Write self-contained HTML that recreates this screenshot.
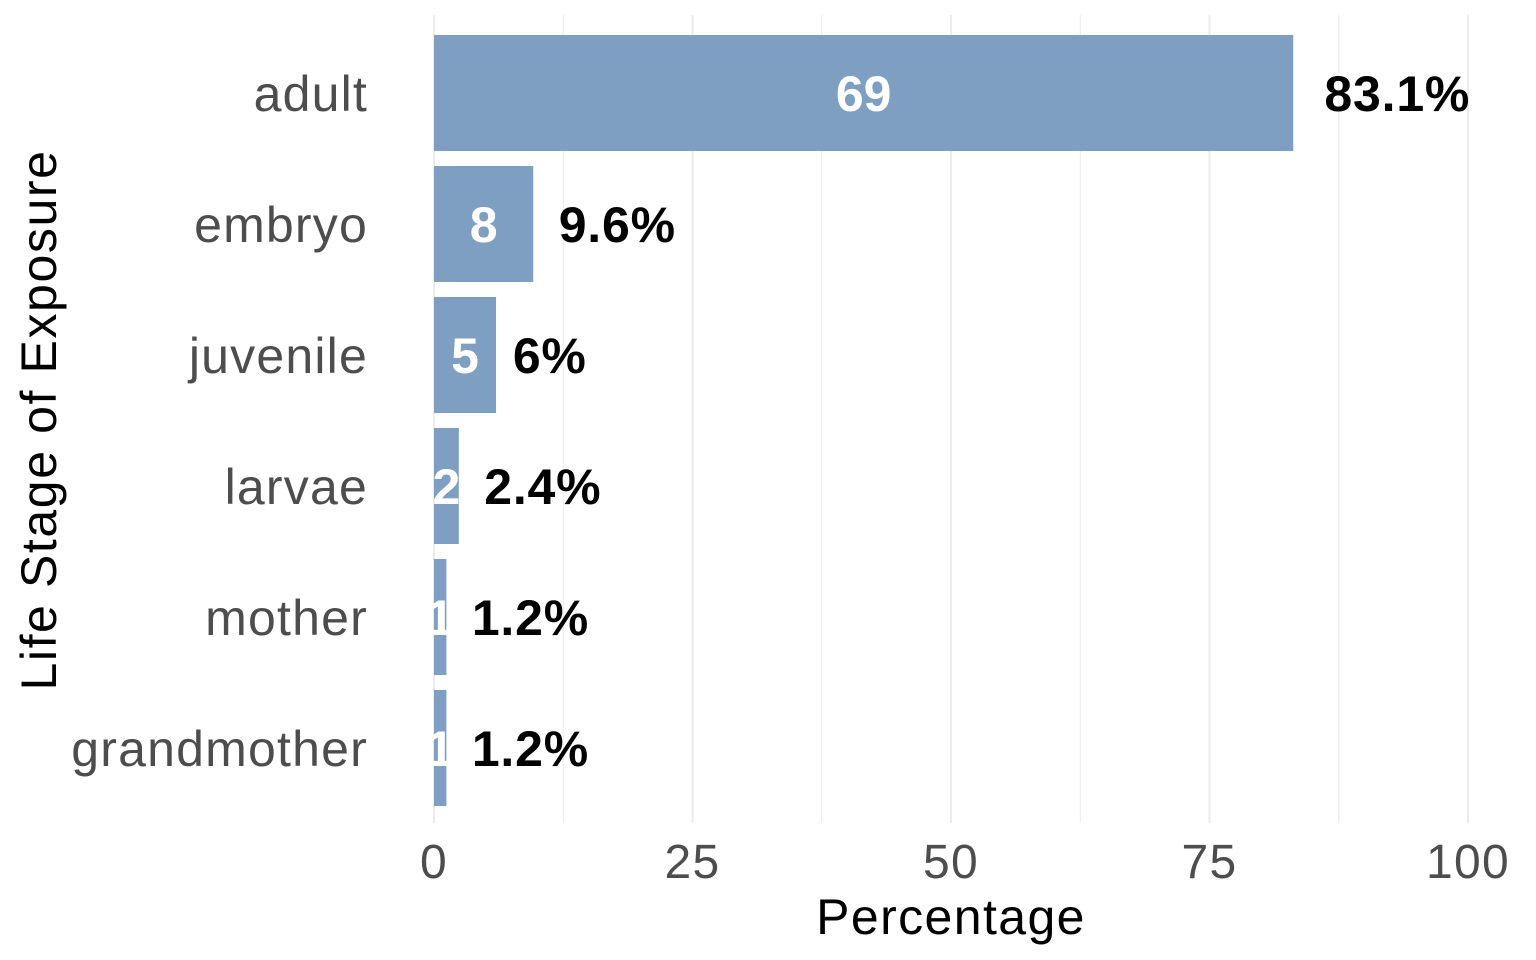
<!DOCTYPE html>
<html><head><meta charset="utf-8"><style>
html,body{margin:0;padding:0;background:#fff}
svg{display:block;font-family:"Liberation Sans",Arial,sans-serif}
</style></head><body>
<svg id="chart" width="1536" height="960" viewBox="0 0 1536 960">
<g id="grid"></g><g id="bars"></g><g id="labels"></g><g id="axes"></g>
<text x="951" y="934" font-size="50" letter-spacing="1.4" text-anchor="middle" fill="#000">Percentage</text>
<text transform="translate(56,420) rotate(-90)" font-size="50" letter-spacing="1.6" text-anchor="middle" fill="#000">Life Stage of Exposure</text>
</svg>
<script>
const categories = ["adult","embryo","juvenile","larvae","mother","grandmother"];
const counts = [69, 8, 5, 2, 1, 1];
const percents = [83.1, 9.6, 6, 2.4, 1.2, 1.2];
const percentLabels = ["83.1%","9.6%","6%","2.4%","1.2%","1.2%"];
const xTicks = [0, 25, 50, 75, 100];
const xMinor = [12.5, 37.5, 62.5, 87.5];

const NS = "http://www.w3.org/2000/svg";
const x = v => 434 + v * 10.34;
const y = i => 93 + i * 131;
const bandH = 116;
function mk(tag, attrs, parent, text){
  const e = document.createElementNS(NS, tag);
  for (const k in attrs) e.setAttribute(k, attrs[k]);
  if (text !== undefined) e.textContent = text;
  parent.appendChild(e); return e;
}
const grid = document.getElementById('grid'), bars = document.getElementById('bars'),
      labels = document.getElementById('labels'), axes = document.getElementById('axes');
xMinor.forEach(v => {
  const l = mk('line', {x1:x(v), x2:x(v), y1:15, y2:823, stroke:'#ebebeb', 'stroke-width':1}, grid);
  
  
});
xTicks.forEach(v => {
  const l = mk('line', {x1:x(v), x2:x(v), y1:15, y2:823, stroke:'#ebebeb', 'stroke-width':2}, grid);
  
  
  const t = mk('text', {x:x(v), y:878, 'font-size':48, 'letter-spacing':1.3, 'text-anchor':'middle', fill:'#4d4d4d'}, axes, String(v));
  
  
});
categories.forEach((c, i) => {
  const cy = y(i);
  const t = mk('text', {x:368, y:cy + 18, 'font-size':50, 'letter-spacing':1.2, 'text-anchor':'end', fill:'#4d4d4d'}, axes, c);
  
  
  const r = mk('rect', {x:x(0), y:cy - bandH/2, width:x(percents[i]) - x(0), height:bandH, fill:'#7f9fc2'}, bars);
  
  
  const n = mk('text', {x:x(percents[i]/2), y:cy + 18, 'font-size':50, 'font-weight':'bold', 'text-anchor':'middle', fill:'#fff'}, labels, String(counts[i]));
  
  
  const p = mk('text', {x:x(percents[i]), y:cy + 18, 'font-size':50, 'letter-spacing':0.8, 'font-weight':'bold', fill:'#000'}, labels, percentLabels[i]);
  
  
  const w = p.getComputedTextLength();
  p.setAttribute('x', x(percents[i]) + 0.2 * w + 2);
});
</script>
</body></html>
